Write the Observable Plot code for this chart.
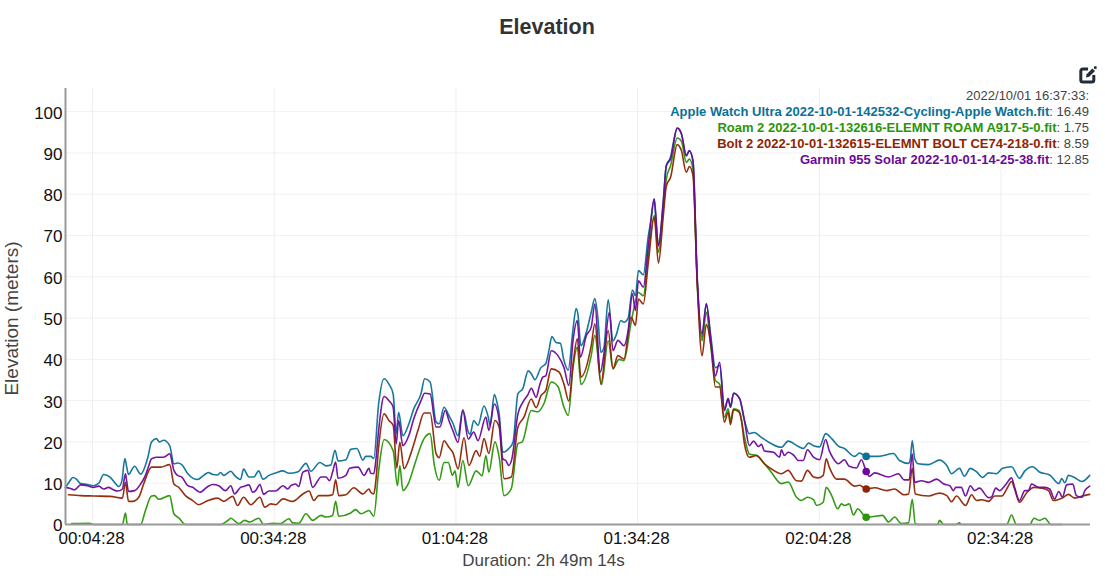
<!DOCTYPE html>
<html>
<head>
<meta charset="utf-8">
<script src="https://cdn.jsdelivr.net/npm/d3@7"></script>
<script src="https://cdn.jsdelivr.net/npm/@observablehq/plot@0.6"></script>
<style>
html,body{margin:0;padding:0;background:#fff;overflow:hidden}
#page{position:relative;width:1105px;height:576px;font-family:"Liberation Sans",Arial,sans-serif}
#title{height:60px;box-sizing:border-box;padding-top:14px;text-align:center;font-size:21.5px;font-weight:bold;line-height:27px;color:#333;margin-left:-11px}
#legend{position:absolute;right:16px;top:88px;text-align:right;font-size:13px;line-height:16px;color:#444;z-index:2;white-space:nowrap}
#legend b{font-weight:bold}
#icon{position:absolute;left:1079px;top:66px;width:18px;height:18px;z-index:2}
#plot svg{display:block;overflow:visible}
</style>
</head>
<body>
<div id="page">
  <div id="title">Elevation</div>
  <svg id="icon" viewBox="0 0 18 18"><path d="M9 3H3.8A2 2 0 0 0 1.8 5v9a2 2 0 0 0 2 2h9a2 2 0 0 0 2-2V9" fill="none" stroke="#222b38" stroke-width="3"/><path d="M7 11.4l.6-3.2L13.4 2.4l2.6 2.6-5.8 5.8z" fill="#222b38"/><rect x="15" y="0.3" width="2.6" height="2.6" fill="#222b38"/></svg>
  <div id="legend"></div>
  <div id="plot"></div>
</div>
<script>
// [minutes since start, elevation in metres]
const appleWatch = [[0,9],[.7,10.5],[1.2,11.4],[1.8,11],[2.5,9.9],[3.6,9.7],[4.6,9.4],[5.5,10],[6.3,12.1],[7.4,11.4],[8.1,10.2],[8.8,9.2],[9.3,10.5],[9.8,16],[10.1,14],[10.4,12.1],[11.4,14.1],[12.4,12.2],[13.6,16.3],[14.2,20],[15,20.8],[15.5,20],[16.2,20.4],[17.2,19.1],[17.9,14.7],[18.5,14.9],[19.2,14.5],[20.2,12.3],[21.8,10.9],[22.8,11.9],[23.6,12.6],[24.3,12.1],[25.1,12],[25.6,12.6],[26.1,11.9],[27.3,12.9],[27.9,11.9],[28.9,10.9],[29.4,13.4],[30.3,11.5],[31.1,11.5],[31.9,13],[32.6,11],[33.6,11.9],[34.7,12.5],[35.9,13],[36.9,12.4],[38.4,12.8],[39.7,14.8],[40.5,12.9],[42,15],[43,14.2],[43.8,14.4],[44.5,18],[45,15.4],[46.3,15.7],[47.1,18.2],[48.1,18.4],[49.1,15.6],[49.6,16.5],[50.4,16.5],[50.9,16],[51.7,29.2],[52.6,35.3],[53.4,34],[54.1,31.6],[54.6,22],[55,27.2],[55.7,21.5],[56.7,24.4],[57.5,28],[58.7,31.7],[59.3,35.3],[60.2,34.5],[61.2,24.8],[61.7,24.4],[62.5,28.4],[63.3,26.4],[64,24.4],[64.8,21.5],[65.6,27.8],[66.5,22.4],[66.8,21.8],[67.4,25.2],[68.1,24],[69.1,28.7],[69.8,26],[70.1,24],[70.8,31.5],[71.3,29.2],[71.6,26.8],[72.2,17.5],[73.2,18.4],[73.9,20],[74.7,31.7],[75.5,32.9],[76.4,37.2],[76.9,36.5],[77.5,35.1],[78.5,38],[79.3,39],[79.8,42],[80.3,45.5],[81,44.1],[81.7,43.9],[82.3,39.7],[83,37.4],[83.8,47.4],[84.3,52.3],[84.6,51],[85.1,43.3],[86,46.6],[86.8,51.4],[87.4,54.7],[87.9,50],[88.4,41.7],[88.9,42.9],[89.6,54.4],[90.4,44.5],[90.9,45.8],[91.7,49.4],[92.2,49],[92.9,50],[93.6,56.8],[94.1,55.4],[94.6,61.5],[95.4,60.5],[96.2,69.6],[96.7,74],[97.2,78.9],[97.5,73],[97.9,67.6],[98.7,78.5],[99.2,87],[99.9,89],[100.3,92],[101,96],[101.7,94.6],[102.5,89.3],[103,90.6],[103.6,88],[104.3,59],[105.1,45.3],[105.8,53.5],[106.5,46.2],[107.3,38],[108,38.5],[108.8,28],[109.4,30.5],[109.8,28.4],[110.3,31.8],[111.3,30.5],[112.1,25.2],[112.9,22],[113.7,22.3],[114.9,21.1],[116.5,19.6],[118.2,18.7],[119.3,20.2],[121,18.9],[121.8,18.4],[122.7,19.7],[123.6,19],[124.5,18.8],[125.5,22],[126.5,20.8],[127.6,19],[128.6,18.4],[130.3,16.5],[131.1,17.3],[132.2,16.49],[134.2,16.5],[136.7,17.2],[137.7,15.5],[139.2,14.8],[139.5,16],[139.8,20.3],[140.2,16],[140.8,14.7],[142.5,14.5],[144.3,15.6],[145.5,14.3],[146.3,12.3],[147.6,13.6],[148.4,11.7],[149.4,13.6],[150.4,12.8],[151.4,11.4],[152.4,12.5],[153.7,12.3],[154.7,13.6],[156.2,14],[157.5,11.2],[158.4,13],[159.7,14],[160.8,12.7],[162.5,12],[164,9.9],[164.5,11.1],[165,10.1],[165.6,11.9],[166.6,11.4],[167.8,10.4],[169.1,11.9]];
const roam2 = [[1,.2],[4,.3],[4.6,0],[9.4,0],[9.9,2.8],[10.2,0],[12.4,0],[13.2,3.4],[14.2,6.9],[14.7,7],[15.4,6.1],[17.2,7],[17.9,2.6],[18.7,1.6],[19.8,0],[25.6,0],[26.9,1.1],[27.3,1.5],[28.6,.2],[29.6,1],[30.4,.6],[31.9,1.5],[32.7,0],[34.2,.3],[35.5,.2],[36.9,1.4],[37.5,.4],[38.5,.3],[39.7,2.6],[40.8,1],[42.2,2.2],[43,1.8],[44.1,2.2],[44.6,5.6],[45.1,2],[47.1,2.8],[47.9,3.6],[48.8,2.6],[50.1,3.4],[50.9,2],[51.7,13],[52.6,20.6],[54.1,17.9],[54.8,9.4],[55.2,14.3],[55.7,8.2],[56.6,9.9],[57.7,14.8],[59.2,20.8],[60.2,22],[60.9,14.3],[61.7,10.7],[62.5,15],[63.2,15],[63.9,11.9],[64.3,13],[64.8,9],[65.6,15.5],[66.5,9.4],[67.8,13],[68.8,11.8],[69.4,16.7],[69.9,12.7],[70.9,20],[71.6,16.3],[72.4,7],[73.6,8.7],[74.7,19.6],[75.4,20],[76.9,27.6],[78,27.3],[79,29.3],[80.2,34.5],[81.3,33.4],[82.3,28.4],[83,26.4],[83.8,38],[84.5,43],[85.1,33.9],[86.8,40.9],[87.4,45.8],[88.5,33.9],[89.6,44.5],[90.4,37.8],[91.4,40],[92.2,39.7],[93.4,49],[94.6,56.2],[95.4,55.4],[96.2,64.7],[97.2,74.8],[97.9,65.9],[98.7,76.4],[99.2,83.7],[99.9,86.9],[101,93.6],[101.7,92.8],[102.5,87.7],[103,88.5],[103.6,86.1],[104.3,59],[105.1,44.5],[105.8,51.4],[106.5,43.7],[107.3,34.9],[108,34],[108.8,26],[109.4,28],[109.8,25.2],[110.3,28],[111.2,27.6],[112.1,21.2],[112.9,17.1],[114.1,16.7],[115.4,14.7],[116.5,12.7],[118.2,9.9],[119.3,10.3],[120.7,6.6],[121.5,5.8],[122.5,6.6],[123.5,6],[124,4.6],[125.1,5.4],[125.6,9],[126.5,7],[127.5,3.8],[128.1,5],[128.6,4.6],[129.4,5],[130.1,2.3],[130.8,3.8],[132.2,1.75],[133.6,2],[134.9,2.2],[135.9,.6],[136.9,1.8],[138,.2],[139.2,.4],[139.8,6.1],[140.3,.2],[140.8,0],[144,0],[144.3,1],[145,0],[147,0],[147.6,.4],[147.9,0],[155.4,0],[156.2,2.3],[157,0],[159.2,0],[159.9,1.5],[160.8,1],[161.7,1.5],[162.7,0],[164.5,0]];
const bolt2 = [[.5,7.2],[2.5,7],[4.6,6.9],[7.4,6.8],[9.4,6.4],[9.9,10.2],[10.4,5.6],[11.1,5.6],[12.1,6.6],[12.9,9.8],[14.2,13.9],[15.7,13.9],[17.2,14.5],[17.9,9.8],[18.7,9],[19.8,7],[21,5.8],[22,4.8],[23.5,5.8],[25.1,6.4],[26.1,5.6],[27.6,6.8],[28.4,4.6],[29.4,6.6],[30.6,4.8],[32.1,6.6],[32.9,4.2],[33.9,5],[34.7,4.8],[35.9,6.2],[37.5,5.6],[39.2,7.4],[40.2,8.1],[41,5.8],[41.8,7],[43.3,7],[44.1,7.2],[44.6,10.8],[45.1,7],[46.3,7.2],[47.6,8.9],[49.1,7.4],[50.1,8.6],[50.4,7.8],[50.9,7.4],[51.2,10],[51.7,18.7],[52.6,26.8],[53.4,25.2],[54.1,24],[54.7,13.7],[55.2,19.9],[55.9,13.5],[57,17.1],[58.2,22.8],[59.2,27],[60.2,27],[61.2,17.1],[61.7,16.2],[62.5,20.3],[63.3,18.7],[64,17.3],[64.8,13.5],[65.8,21],[66.6,14.3],[67.8,17.9],[68.4,16.5],[69.1,20.8],[69.9,17.2],[70.9,25.2],[71.6,23.6],[72.4,11.1],[73.6,11.5],[74.7,23.6],[75.7,26],[76.9,30.4],[77.7,28.3],[78.5,31.2],[79.3,32.5],[80.2,37.7],[81.5,36.9],[82.3,34],[83.1,29.9],[83.8,38.9],[84.5,45],[85.1,35.7],[86.8,43.3],[87.4,48.6],[88.4,34],[89.6,47],[90.4,37.7],[91.2,40.9],[92.2,40.1],[93.4,50.2],[94.1,48.2],[94.6,54.6],[95.4,53.4],[96.2,63.1],[97.2,74.4],[97.9,63.3],[98.7,74.8],[99.2,82],[99.9,84.1],[101,92],[101.7,90.5],[102.5,85.3],[103,86.7],[103.6,84.5],[104.3,58.3],[105.1,40.9],[105.8,48.4],[106.6,43],[107.3,33.3],[108,33.3],[108.8,24.8],[109.4,27.2],[109.8,24.2],[110.3,27.8],[111.2,27.2],[111.6,25.2],[112.1,19.5],[112.9,16.3],[114.1,16.7],[115.4,14.7],[116.5,13.5],[118.2,12.3],[119.3,13.1],[120.7,10.6],[121.5,10.5],[122.5,13.1],[123.5,11.5],[124.3,11.3],[125.1,11.9],[125.6,15.9],[126.1,13.9],[127.3,11],[128.6,11],[130.3,9.3],[131.1,9.5],[132.2,8.59],[133.6,8.9],[135.6,8.2],[136.9,8.6],[138.4,7.2],[139.2,7.4],[139.8,13.6],[140.3,7.4],[142.5,6.9],[144.3,7.6],[145.5,7],[146.3,5.5],[147.1,6.9],[148.6,4.6],[149.6,7.2],[150.4,5.8],[151.3,6],[152.4,5.6],[153.4,6.9],[154.6,6.9],[155.4,8.6],[156.2,10.4],[156.7,8.6],[157.5,5.4],[158.7,7.7],[159.9,9],[161.2,8.8],[162.3,8.2],[163.1,5.8],[164.8,6.6],[165.6,7.3],[166.6,6.4],[168.1,7],[169.1,7.3]];
const garmin955 = [[0,9],[.7,8.8],[1.5,8.4],[2,9],[2.5,9.6],[3.6,9.4],[4.6,9],[5.5,9.3],[6.3,8.6],[7.1,9],[7.8,8.5],[8.6,8.1],[9.4,8.6],[9.9,12.3],[10.1,10.5],[10.4,8],[11.4,8.2],[12.4,9.8],[13.2,11.9],[13.7,14],[14.2,15.9],[15,16.3],[16.2,16.3],[17.2,17.1],[17.9,13.1],[18.5,11.9],[19.2,11.5],[20.2,9.4],[21,9],[22.2,7.8],[23.5,9.2],[24.3,9.7],[25.3,9.4],[26.4,8.2],[27.3,9.4],[27.9,7.4],[28.9,9],[29.4,9.2],[30.3,9.6],[30.9,7.8],[31.4,8.2],[32.1,9.7],[32.7,7.3],[33.6,8.1],[34.7,8.1],[35.9,9.4],[36.7,8.6],[37.2,9.4],[38,9.8],[38.5,9.2],[39.2,12.7],[40,13.1],[40.8,9],[42.2,11.5],[43,11.5],[43.6,10.6],[44.1,12.7],[44.6,15.1],[45,11.2],[46.3,11.9],[46.9,13.6],[48.3,13.9],[49.3,11.9],[50.1,13.6],[50.4,12.4],[50.9,12.3],[51.2,15],[51.7,22.8],[52.6,31],[53.4,30],[54.1,28.4],[54.6,19.5],[55,25.2],[55.7,19.1],[56.7,21.6],[57.5,25.6],[58.7,30],[59.3,31.8],[60.2,31.6],[61.2,23.6],[61.8,23.6],[62.7,27.6],[63.3,25.2],[64,22.6],[64.8,19.9],[65.6,27.6],[66.5,20.7],[67.4,22.4],[68.1,20.3],[69.4,26],[69.9,22.8],[70.8,29.2],[71.6,25.2],[72.2,15.9],[72.7,15.5],[73.2,14.3],[73.7,15.9],[74.7,26.8],[75.5,29.6],[76.4,31.6],[76.9,33],[77.7,30.8],[78.2,33.3],[78.8,35.7],[79.3,36],[80.2,42.1],[81.3,40.9],[82.3,38],[83.1,33.7],[83.8,44.6],[84.5,49.4],[85,40.5],[86,45.8],[86.8,47.8],[87.4,53.4],[88.3,36.9],[88.9,41.3],[89.8,51.4],[90.4,42.1],[91.2,44.6],[92.2,43.3],[92.9,47],[93.6,55.9],[94.1,51.8],[94.6,59],[95.4,57.5],[96.2,67.1],[97.2,78.8],[97.9,67.5],[98.7,78],[99.2,86.9],[99.9,88.5],[101,96],[101.7,94.6],[102.5,89.3],[103,90.5],[103.6,88.1],[104.3,59.9],[105.1,46.2],[105.8,53.4],[106.6,43.8],[107.3,36],[108,39.3],[108.8,27.6],[109.4,30.5],[109.8,28.4],[110.3,31.8],[111.3,30.5],[112.1,25.2],[112.9,19.1],[113.6,20.2],[114.4,18.9],[114.9,19.4],[115.4,17.8],[116.9,17.5],[117.9,16.3],[118.2,18.1],[118.7,16.7],[119.3,17.5],[120.3,16.7],[121,15.5],[121.8,15.5],[122.5,18.1],[123.5,16.3],[124.5,15.7],[125.5,20.6],[126.1,17.9],[126.8,15.9],[127.6,14.7],[128.6,15.7],[129.4,14.1],[130.6,13.7],[131.4,15.7],[132.2,12.85],[132.7,11.7],[133.6,12.5],[135.9,11.5],[137.5,12.3],[138.5,10.8],[139.3,10.8],[139.8,17.1],[140.2,10.2],[141.3,10.6],[142.5,10.2],[143.8,11],[145,9.8],[146,9.4],[146.6,8.2],[147,9],[147.9,9],[148.6,6.9],[149.4,9.4],[150.1,8.2],[150.9,8.8],[152.4,6.5],[152.9,6.7],[153.6,8.8],[154.2,8.2],[155.2,9.6],[156.2,11.3],[156.7,9],[157.5,5.8],[158.4,8.2],[159,8.2],[159.5,9.8],[160.7,9],[161.7,9],[162.5,8.6],[163.3,6.2],[164,8],[164.6,6.6],[165.3,9.6],[166.3,9.8],[166.9,7],[167.8,6.6],[168.3,8.2],[169.1,9.3]];

const seriesNames = ["Apple Watch Ultra 2022-10-01-142532-Cycling-Apple Watch.fit","Roam 2 2022-10-01-132616-ELEMNT ROAM A917-5-0.fit","Bolt 2 2022-10-01-132615-ELEMNT BOLT CE74-218-0.fit","Garmin 955 Solar 2022-10-01-14-25-38.fit"];
const seriesData = [appleWatch, roam2, bolt2, garmin955];
const seriesColors = ["#0b7196","#2a9506","#8f2403","#6c0a9b"];
const cursorValues = ["16.49","1.75","8.59","12.85"];
const cursorMinute = 132.2;
const cursorLabel = "2022/10/01 16:37:33:";
const xTickMinutes = [4+28/60, 34+28/60, 64+28/60, 94+28/60, 124+28/60, 154+28/60];
const xTickLabels = ["00:04:28","00:34:28","01:04:28","01:34:28","02:04:28","02:34:28"];
const yTicks = [0,10,20,30,40,50,60,70,80,90,100];
const totalMinutes = 10154/60;
const yMax = 105.6;

const rows = seriesData.flatMap((s,i)=>s.map(([m,v])=>({m,v,i})));
const cursorRows = cursorValues.map((v,i)=>({m:cursorMinute,v:+v,i}));

document.getElementById("legend").innerHTML =
  `<div>${cursorLabel}</div>` + seriesNames.map((n,i)=>
    `<div><b style="color:${seriesColors[i]}">${n}</b>: ${cursorValues[i]}</div>`).join("");

const fig = Plot.plot({
  width:1105, height:516,
  marginLeft:65, marginRight:15, marginTop:28, marginBottom:52,
  style:{fontFamily:'"Liberation Sans",Arial,sans-serif',fontSize:"17px",background:"transparent",color:"#111"},
  x:{domain:[0,totalMinutes]},
  y:{domain:[0,yMax]},
  color:{type:"ordinal",domain:[0,1,2,3],range:seriesColors},
  marks:[
    Plot.gridX(xTickMinutes,{stroke:"#eeeeee",strokeOpacity:1}),
    Plot.gridY(yTicks.slice(1),{stroke:"#f1f1f1",strokeOpacity:1}),
    Plot.line(rows,{x:"m",y:"v",z:"i",stroke:"i",strokeWidth:1.6,curve:"monotone-x",strokeOpacity:.95}),
    Plot.dot(cursorRows,{x:"m",y:"v",fill:"i",r:3.8,stroke:"none"}),
    Plot.axisX({ticks:xTickMinutes,tickFormat:(d,i)=>xTickLabels[i],tickSize:0,tickPadding:7,dx:-1,label:null,fill:"#111"}),
    Plot.axisY({ticks:yTicks,tickSize:0,tickPadding:3,label:null,dy:1.5,fill:"#111"}),
    Plot.ruleX([0],{stroke:"#9a9a9a",strokeWidth:2}),
    Plot.ruleY([0],{stroke:"#9a9a9a",strokeWidth:2}),
    Plot.text(["Elevation (meters)"],{frameAnchor:"left",rotate:-90,dx:-54,dy:12,fontSize:19,fill:"#444",textAnchor:"middle"}),
    Plot.text(["Duration: 2h 49m 14s"],{frameAnchor:"bottom",dy:36,dx:-34.5,fontSize:17,fill:"#444",lineAnchor:"middle"})
  ]
});
document.getElementById("plot").appendChild(fig);
</script>
</body>
</html>
